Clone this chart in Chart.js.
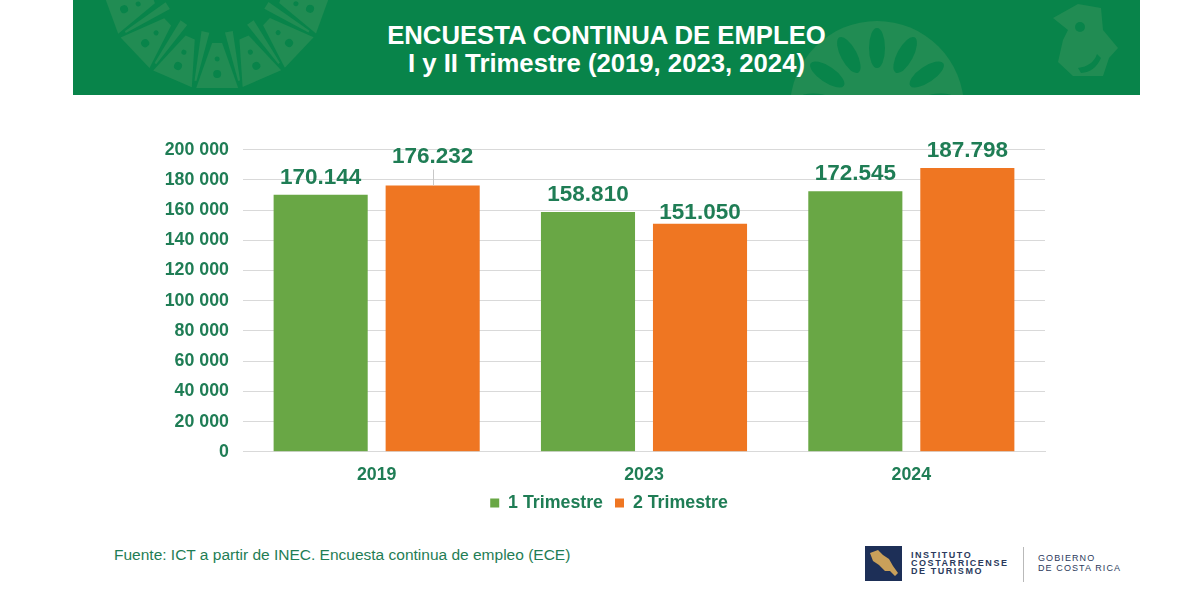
<!DOCTYPE html>
<html lang="es">
<head>
    <meta charset="UTF-8">
    <title>Encuesta continua de empleo</title>
    <script src="https://cdn.jsdelivr.net/npm/chart.js"></script>
    <style>
        html, body { margin: 0; padding: 0; background: #fff; }
        body { width: 1200px; height: 600px; position: relative; overflow: hidden; font-family: "Liberation Sans", Arial, sans-serif; }
        #banner { position: absolute; left: 73px; top: 0; width: 1067px; height: 95px; background: #08844a; overflow: hidden; }
        #banner svg { position: absolute; left: 0; top: 0; }
        #title { position: absolute; left: 73px; top: 21px; width: 1067px; text-align: center; color: #fff; font-weight: bold; font-size: 25.7px; line-height: 28px; }
        #chartBox { position: absolute; left: 150px; top: 125px; width: 918px; height: 411px; }
        #source { position: absolute; left: 114px; top: 546px; font-size: 15.5px; color: #1f7d55; }
        #logo { position: absolute; left: 865px; top: 546px; width: 37px; height: 35px; background: #1d2f57; }
        #sep { position: absolute; left: 1023px; top: 547px; width: 1px; height: 35px; background: #b9b9b9; }
        .org { position: absolute; color: #2b3a5c; font-size: 9px; line-height: 8px; letter-spacing: 1.1px; white-space: pre; }
        .org.strong { font-weight: bold; letter-spacing: 1.55px; }
    </style>
</head>
<body>
    <div id="banner">
        <svg width="1067" height="95" id="decor"></svg>
    </div>
    <div id="title">ENCUESTA CONTINUA DE EMPLEO<br>I y II Trimestre (2019, 2023, 2024)</div>

    <div id="chartBox"><canvas id="empleoChart"></canvas></div>

    <div id="source">Fuente: ICT a partir de INEC. Encuesta continua de empleo (ECE)</div>
    <div id="logo">
        <svg width="37" height="35"><path d="M5 7 L13 4 L18 9 L24 13 L28 20 L33 27 L30 30 L25 25 L20 25 L14 19 L8 15 Z" fill="#c9a05a"/></svg>
    </div>
    <div class="org strong" style="left:911px;top:551px">INSTITUTO</div>
    <div class="org strong" style="left:911px;top:559px">COSTARRICENSE</div>
    <div class="org strong" style="left:911px;top:567px">DE TURISMO</div>
    <div id="sep"></div>
    <div class="org" style="left:1038px;top:554px">GOBIERNO</div>
    <div class="org" style="left:1038px;top:564px">DE COSTA RICA</div>

    <script>
        const years = ['2019', '2023', '2024'];
        const trimestre1 = [170144, 158810, 172545];
        const trimestre2 = [176232, 151050, 187798];
        const seriesNames = ['1 Trimestre', '2 Trimestre'];

        const textColor = '#1f7d55';

        // how far each value label sits above its bar
        const labelLift = [[17, 17, 17], [29, 11, 17]];

        // background decoration of the banner
        let decor = '';
        const pale = '#218c53';
        const base = '#08844a';
        for (let a = -70; a <= 70; a += 23.3) {
            decor += `<g transform="translate(144,-25) rotate(${a})">
                <path d="M-5 68 L5 68 L21 113 L-21 113 Z" fill="${pale}"/>
                <circle cx="0" cy="84" r="2.5" fill="${base}"/><circle cx="0" cy="99" r="4" fill="${base}"/></g>`;
        }
        for (let a = -58.4; a <= 58.4; a += 23.3) {
            decor += `<path transform="translate(144,-25) rotate(${a})" d="M-4 58 L4 58 L1 108 L-1 108 Z" fill="${pale}"/>`;
        }
        decor += `<circle cx="804" cy="108" r="87" fill="${pale}"/>`;
        for (let a = -84; a <= 84; a += 28) {
            decor += `<ellipse transform="translate(804,108) rotate(${a}) translate(0,-60)" cx="0" cy="0" rx="8" ry="20" fill="${base}"/>`;
        }
        decor += `<path d="M980 18 L1005 4 L1028 8 L1030 30 L1045 48 L1036 58 L1030 76 L1000 76 L985 62 L990 40 L995 30 Z" fill="${pale}"/>
            <circle cx="1007" cy="27" r="5" fill="${base}"/>
            <path d="M1005 68 Q1020 66 1024 54 L1028 58 Q1022 72 1008 73 Z" fill="${base}"/>`;
        document.getElementById('decor').innerHTML = decor;

        const valueLabels = {
            id: 'valueLabels',
            afterDatasetsDraw(chart) {
                const c = chart.ctx;
                c.save();
                c.textAlign = 'center';
                c.textBaseline = 'middle';
                c.font = 'bold 22.5px "Liberation Sans"';
                chart.data.datasets.forEach((ds, i) => {
                    chart.getDatasetMeta(i).data.forEach((bar, j) => {
                        const lift = labelLift[i][j];
                        if (lift > 20) {
                            // leader line from the label down to the bar
                            c.strokeStyle = '#c8c8c8';
                            c.lineWidth = 1;
                            c.beginPath();
                            c.moveTo(Math.round(bar.x) + 0.5, bar.y);
                            c.lineTo(Math.round(bar.x) + 0.5, bar.y - lift + 13);
                            c.stroke();
                        }
                        c.fillStyle = textColor;
                        c.fillText(ds.data[j].toLocaleString('de-DE'), bar.x, bar.y - lift);
                    });
                });
                c.restore();
            }
        };

        // the reference legend is centred a little right of the plot's box and sits closer to the axis
        const legendNudge = {
            id: 'legendNudge',
            afterLayout(chart) {
                chart.legend.left += 11.5;
                chart.legend.right += 11.5;
                chart.legend.top -= 9;
                chart.legend.bottom -= 9;
            }
        };

        new Chart(document.getElementById('empleoChart'), {
            type: 'bar',
            data: {
                labels: years,
                datasets: [
                    { label: seriesNames[0], data: trimestre1, backgroundColor: '#69a745' },
                    { label: seriesNames[1], data: trimestre2, backgroundColor: '#ef7622' }
                ]
            },
            options: {
                responsive: true,
                maintainAspectRatio: false,
                animation: false,
                categoryPercentage: 0.838,
                barPercentage: 0.84,
                layout: { padding: { top: 10, right: 23, left: 0, bottom: 5 } },
                plugins: {
                    tooltip: { enabled: false },
                    legend: {
                        position: 'bottom',
                        labels: {
                            boxWidth: 9,
                            boxHeight: 9,
                            padding: 12,
                            color: textColor,
                            font: { family: '"Liberation Sans"', size: 17.8, weight: 'bold' }
                        }
                    }
                },
                scales: {
                    x: {
                        grid: { display: false },
                        border: { color: '#d9d9d9' },
                        ticks: { color: textColor, padding: 5, font: { family: '"Liberation Sans"', size: 17.8, weight: 'bold' } }
                    },
                    y: {
                        min: 0,
                        max: 200000,
                        afterFit(scale) { scale.width = 93; },
                        grid: { color: '#d9d9d9', drawTicks: false },
                        border: { display: false },
                        ticks: {
                            stepSize: 20000,
                            padding: 14,
                            color: textColor,
                            font: { family: '"Liberation Sans"', size: 17.8, weight: 'bold' },
                            callback: v => String(v).replace(/\B(?=(\d{3})+$)/g, ' ')
                        }
                    }
                }
            },
            plugins: [valueLabels, legendNudge]
        });
    </script>
</body>
</html>
